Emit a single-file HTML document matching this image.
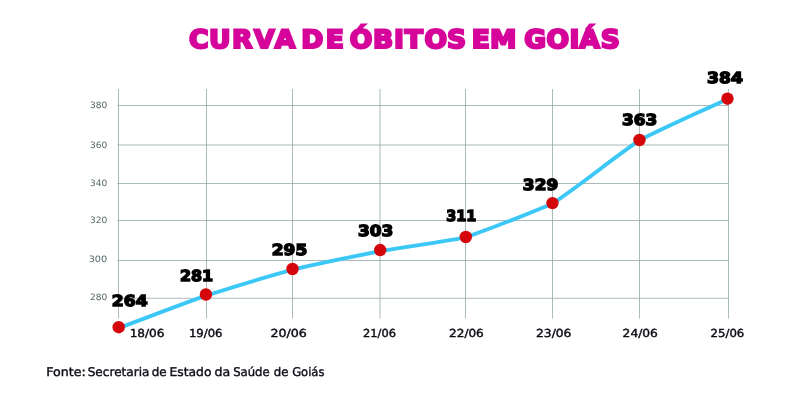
<!DOCTYPE html>
<html lang="pt-BR">
<head>
<meta charset="utf-8">
<title>Curva de óbitos em Goiás</title>
<style>
html,body{margin:0;padding:0;background:#fff;}
body{width:800px;height:405px;overflow:hidden;}
svg{display:block;}
text{font-family:"Liberation Sans",sans-serif;text-rendering:geometricPrecision;}
.title text{font-family:"DejaVu Sans","Liberation Sans",sans-serif;}
.title{font-weight:bold;font-size:25.3px;fill:#d5049a;stroke:#d5049a;stroke-width:2.2px;stroke-linejoin:miter;stroke-miterlimit:3;}
.ylab text,.xlab text,text.src{font-family:"DejaVu Sans","Liberation Sans",sans-serif;}
.ylab{font-size:8.8px;fill:#566868;}
.xlab{font-size:11px;fill:#0b0b12;stroke:#0b0b12;stroke-width:.42px;}
.val text{font-family:"DejaVu Sans","Liberation Sans",sans-serif;}
.val{font-weight:bold;font-size:15.2px;fill:#000;stroke:#000;stroke-width:1.4px;stroke-linejoin:miter;stroke-miterlimit:3;}
.src{font-size:12px;fill:#0e0e18;stroke:#0e0e18;stroke-width:.4px;}
.grid line{stroke:#96a9a5;stroke-width:.8;}
</style>
</head>
<body>
<svg width="800" height="405" viewBox="0 0 800 405">
<rect width="800" height="405" fill="#fff"/>
<g class="grid">
<line x1="118.5" y1="89" x2="118.5" y2="318.5"/>
<line x1="206.5" y1="89" x2="206.5" y2="318.5"/>
<line x1="292.5" y1="89" x2="292.5" y2="318.5"/>
<line x1="380.0" y1="89" x2="380.0" y2="318.5"/>
<line x1="465.5" y1="89" x2="465.5" y2="318.5"/>
<line x1="552.5" y1="89" x2="552.5" y2="318.5"/>
<line x1="639.5" y1="89" x2="639.5" y2="318.5"/>
<line x1="728.5" y1="89" x2="728.5" y2="318.5"/>
<line x1="117.5" y1="105.5" x2="729" y2="105.5"/>
<line x1="117.5" y1="145.0" x2="729" y2="145.0"/>
<line x1="117.5" y1="183.5" x2="729" y2="183.5"/>
<line x1="117.5" y1="220.5" x2="729" y2="220.5"/>
<line x1="117.5" y1="260.5" x2="729" y2="260.5"/>
<line x1="117.5" y1="298.3" x2="729" y2="298.3"/>
</g>
<g class="ylab">
<text x="90" y="108" textLength="17.3" lengthAdjust="spacingAndGlyphs">380</text>
<text x="90" y="148" textLength="17.3" lengthAdjust="spacingAndGlyphs">360</text>
<text x="90" y="186" textLength="17.3" lengthAdjust="spacingAndGlyphs">340</text>
<text x="90" y="223" textLength="17.3" lengthAdjust="spacingAndGlyphs">320</text>
<text x="88.7" y="262" textLength="18.5" lengthAdjust="spacingAndGlyphs">300</text>
<text x="90" y="300" textLength="17.3" lengthAdjust="spacingAndGlyphs">280</text>
</g>
<path d="M118.7 328.1 C147.8 317.3 176.9 306.0 205.9 295.7 C234.8 286.5 263.5 277.7 292.5 269.6 C321.6 262.8 351.1 256.9 380.2 251.2 C408.9 246.2 437.1 242.9 465.7 237.4 C494.5 227.0 523.5 215.7 552.4 203.7 C581.4 184.3 610.5 160.2 639.6 140.2 C668.9 125.3 698.2 112.7 727.5 98.9" fill="none" stroke="#3cc8f6" stroke-width="3.9" stroke-linecap="round" stroke-linejoin="round"/>
<g fill="#d4060c">
<circle cx="118.7" cy="327.2" r="6.2"/>
<circle cx="205.9" cy="294.5" r="6.2"/>
<circle cx="292.5" cy="269.0" r="6.2"/>
<circle cx="380.2" cy="250.05" r="6.2"/>
<circle cx="465.8" cy="237.0" r="6.2"/>
<circle cx="552.45" cy="203.1" r="6.2"/>
<circle cx="639.5" cy="140.0" r="6.2"/>
<circle cx="727.5" cy="98.7" r="6.2"/>
</g>
<g class="val">
<text x="111.87" y="306" textLength="35.77" lengthAdjust="spacingAndGlyphs">264</text>
<text x="179.91" y="281" textLength="33.26" lengthAdjust="spacingAndGlyphs">281</text>
<text x="271.76" y="255" textLength="35.45" lengthAdjust="spacingAndGlyphs">295</text>
<text x="358.1" y="236" textLength="35.28" lengthAdjust="spacingAndGlyphs">303</text>
<text x="446.19" y="221" textLength="30.09" lengthAdjust="spacingAndGlyphs">311</text>
<text x="522.86" y="190" textLength="35.31" lengthAdjust="spacingAndGlyphs">329</text>
<text x="622.02" y="125" textLength="35.23" lengthAdjust="spacingAndGlyphs">363</text>
<text x="707.05" y="83" textLength="35.78" lengthAdjust="spacingAndGlyphs">384</text>
</g>
<g class="xlab">
<text x="129.66" y="337" textLength="34.84" lengthAdjust="spacingAndGlyphs">18/06</text>
<text x="188.94" y="337" textLength="33.58" lengthAdjust="spacingAndGlyphs">19/06</text>
<text x="270.41" y="337" textLength="36.33" lengthAdjust="spacingAndGlyphs">20/06</text>
<text x="363.02" y="337" textLength="32.89" lengthAdjust="spacingAndGlyphs">21/06</text>
<text x="449.09" y="337" textLength="34.68" lengthAdjust="spacingAndGlyphs">22/06</text>
<text x="536.09" y="337" textLength="35.31" lengthAdjust="spacingAndGlyphs">23/06</text>
<text x="622.61" y="337" textLength="35.23" lengthAdjust="spacingAndGlyphs">24/06</text>
<text x="710.55" y="337" textLength="33.73" lengthAdjust="spacingAndGlyphs">25/06</text>
</g>
<g class="title" transform="scale(1.05,1.0)">
<text x="179.9 199.0 221.0 242.0 261.6" y="48.0">CURVA</text>
<text x="286.9 310.2" y="48.0">DE</text>
<text x="333.2 355.3 375.3 385.5 404.3 425.7" y="48.0">ÓBITOS</text>
<text x="449.2 466.6" y="48.0">EM</text>
<text x="499.3 520.4 542.3 551.7 572.1" y="48.0">GOIÁS</text>
</g>
<text class="src" y="376"><tspan x="46.24" textLength="39.51" lengthAdjust="spacingAndGlyphs">Fonte:</tspan> <tspan x="87.71" textLength="61.75" lengthAdjust="spacingAndGlyphs">Secretaria</tspan> <tspan x="151.77" textLength="14.96" lengthAdjust="spacingAndGlyphs">de</tspan> <tspan x="169.51" textLength="41.94" lengthAdjust="spacingAndGlyphs">Estado</tspan> <tspan x="214.64" textLength="15.73" lengthAdjust="spacingAndGlyphs">da</tspan> <tspan x="233.17" textLength="36.54" lengthAdjust="spacingAndGlyphs">Saúde</tspan> <tspan x="273.66" textLength="14.71" lengthAdjust="spacingAndGlyphs">de</tspan> <tspan x="292.16" textLength="32.32" lengthAdjust="spacingAndGlyphs">Goiás</tspan></text>
</svg>
</body>
</html>
